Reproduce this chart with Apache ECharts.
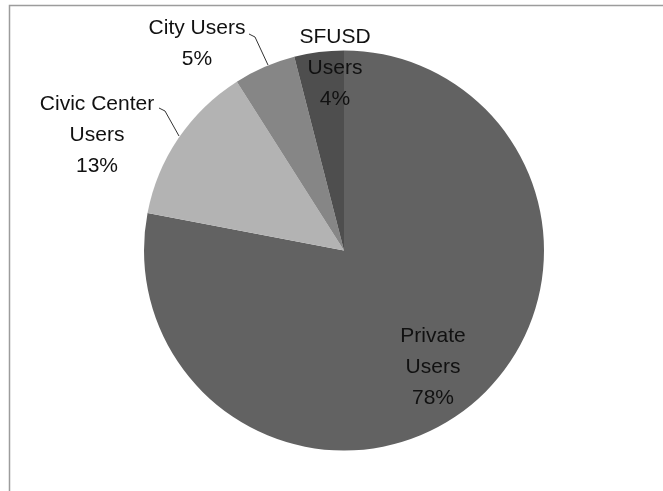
<!DOCTYPE html>
<html>
<head>
<meta charset="utf-8">
<script src="https://cdn.jsdelivr.net/npm/echarts@6/dist/echarts.min.js"></script>
<style>
  html, body { margin: 0; padding: 0; background: #fff; }
  #main { width: 663px; height: 491px; }
</style>
</head>
<body>
<div id="main"></div>
<script>
// slices, clockwise from 12 o'clock
var categories = ['Private\nUsers', 'Civic Center\nUsers', 'City Users', 'SFUSD\nUsers'];
var shares = [78, 13, 5, 4];
var sliceColors = ['#626262', '#b3b3b3', '#868686', '#4e4e4e'];

// where each label sits (centre of the text block)
var labelSpots = [[433, 367], [97, 135], [197, 44], [335, 68]];
// leader lines (pie edge -> bend -> label end), null = none
var leaderPaths = [
  null,
  [[179, 136], [165, 111], [159, 108]],
  [[268, 65], [255, 37], [249, 34]],
  null
];

var chart = echarts.init(document.getElementById('main'));

var option = {
  animation: false,
  backgroundColor: '#fff',
  graphic: [{
    type: 'polyline',
    shape: { points: [[9.5, 491], [9.5, 5.5], [663, 5.5]] },
    style: { stroke: '#9c9c9c', lineWidth: 1.5, fill: null }
  }],
  series: [{
    type: 'pie',
    center: [344, 250.5],
    radius: [0, 200],
    startAngle: 90,
    clockwise: true,
    label: {
      show: true,
      position: 'outside',
      formatter: '{b}\n{c}%',
      fontFamily: 'Liberation Sans, Arial, sans-serif',
      fontSize: 21,
      lineHeight: 31,
      color: '#111',
      align: 'center'
    },
    labelLine: {
      show: true,
      length: 10,
      length2: 8,
      lineStyle: { color: '#333', width: 1 }
    },
    labelLayout: function (p) {
      var s = labelSpots[p.dataIndex];
      var out = { x: s[0], y: s[1], align: 'center', verticalAlign: 'middle' };
      if (leaderPaths[p.dataIndex]) out.labelLinePoints = leaderPaths[p.dataIndex];
      return out;
    },
    itemStyle: { borderWidth: 0 },
    emphasis: { disabled: true },
    data: categories.map(function (name, i) {
      return {
        name: name,
        value: shares[i],
        itemStyle: { color: sliceColors[i] },
        labelLine: { show: leaderPaths[i] != null }
      };
    })
  }]
};

chart.setOption(option);
</script>
</body>
</html>
